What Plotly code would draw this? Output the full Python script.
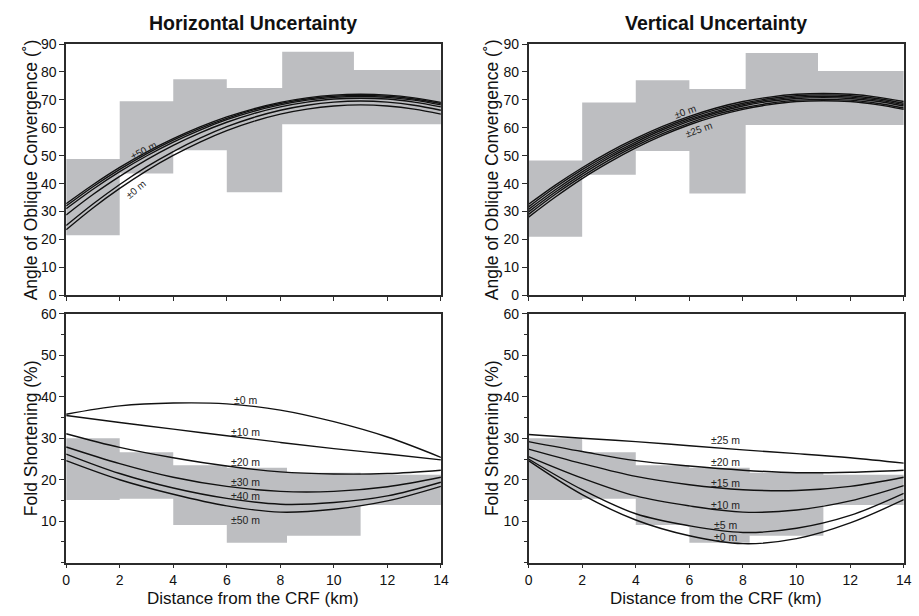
import plotly.graph_objects as go

# ---------------- data ----------------
x_top = [0, 1, 2, 3, 4, 5, 6, 7, 8, 9, 10, 11, 12, 13, 14]

# Horizontal uncertainty - angle of oblique convergence
h_angle_0  = [23.5, 31.3, 38.3, 44.6, 50.1, 54.9, 59.0, 62.3, 64.9, 66.7, 67.8, 68.2, 67.8, 66.7, 64.9]
h_angle_10 = [25.0, 32.7, 39.7, 46.0, 51.5, 56.3, 60.4, 63.7, 66.3, 68.1, 69.2, 69.6, 69.2, 68.1, 66.3]
h_angle_20 = [28.8, 36.1, 42.6, 48.5, 53.7, 58.2, 62.0, 65.1, 67.5, 69.2, 70.3, 70.6, 70.3, 69.2, 67.5]
h_angle_30 = [31.0, 38.0, 44.3, 49.9, 54.9, 59.2, 62.9, 65.9, 68.2, 69.9, 70.9, 71.2, 70.9, 69.9, 68.2]
h_angle_40 = [32.0, 38.9, 45.1, 50.7, 55.6, 59.8, 63.4, 66.4, 68.7, 70.3, 71.3, 71.6, 71.3, 70.3, 68.7]
h_angle_50 = [32.8, 39.6, 45.8, 51.3, 56.1, 60.3, 63.9, 66.8, 69.1, 70.7, 71.7, 72.0, 71.7, 70.7, 69.1]

# Vertical uncertainty - angle of oblique convergence
v_angle_0  = [32.6, 39.5, 45.7, 51.3, 56.2, 60.5, 64.1, 67.1, 69.4, 71.0, 72.0, 72.3, 72.0, 71.0, 69.4]
v_angle_5  = [31.7, 38.7, 45.0, 50.6, 55.6, 59.9, 63.5, 66.5, 68.8, 70.5, 71.5, 71.8, 71.5, 70.5, 68.8]
v_angle_10 = [30.8, 37.8, 44.2, 49.9, 54.9, 59.3, 62.9, 65.9, 68.3, 70.0, 71.0, 71.3, 71.0, 70.0, 68.3]
v_angle_15 = [29.9, 37.0, 43.4, 49.2, 54.2, 58.6, 62.4, 65.4, 67.8, 69.5, 70.5, 70.8, 70.5, 69.5, 67.8]
v_angle_20 = [29.0, 36.2, 42.6, 48.4, 53.5, 57.9, 61.7, 64.8, 67.1, 68.8, 69.9, 70.2, 69.9, 68.8, 67.1]
v_angle_25 = [28.0, 35.2, 41.8, 47.6, 52.8, 57.3, 61.1, 64.2, 66.6, 68.3, 69.4, 69.7, 69.4, 68.3, 66.6]

x_bot = [0, 2, 4, 6, 8, 10, 12, 14]

# Horizontal uncertainty - fold shortening
h_fold_0  = [35.8, 37.8, 38.5, 38.3, 36.8, 34.0, 30.3, 25.4]
h_fold_10 = [35.5, 33.8, 32.2, 30.6, 29.0, 27.5, 26.2, 24.8]
h_fold_20 = [31.1, 27.8, 25.3, 23.3, 21.9, 21.4, 21.5, 22.3]
h_fold_30 = [27.9, 23.9, 20.6, 18.4, 17.2, 17.2, 18.3, 20.6]
h_fold_40 = [26.2, 21.5, 18.0, 15.5, 14.1, 14.5, 16.1, 19.4]
h_fold_50 = [24.6, 20.0, 16.5, 13.7, 12.2, 12.9, 14.9, 18.4]

# Vertical uncertainty - fold shortening
v_fold_25 = [30.9, 30.0, 29.2, 28.2, 27.2, 26.3, 25.3, 24.0]
v_fold_20 = [29.2, 26.8, 24.6, 23.3, 22.3, 21.7, 21.8, 22.3]
v_fold_15 = [27.4, 23.9, 20.8, 18.8, 17.6, 17.4, 18.4, 20.6]
v_fold_10 = [25.6, 20.4, 16.1, 13.7, 12.2, 12.7, 14.9, 18.6]
v_fold_5  = [25.0, 17.6, 11.8, 8.9, 7.3, 8.3, 11.4, 16.7]
v_fold_0  = [24.6, 16.4, 10.3, 6.5, 4.6, 5.8, 9.6, 15.2]

# Shaded ranges: bin edges, low and high per bin
h_angle_edges = [0, 2, 4, 6, 8.07, 10.75, 14]
h_angle_lo = [21.5, 43.6, 52.0, 36.9, 61.3, 61.3]
h_angle_hi = [48.8, 69.5, 77.4, 74.3, 87.2, 80.7]

v_angle_edges = [0, 2, 4, 6, 8.1, 10.8, 14]
v_angle_lo = [21.0, 43.2, 51.7, 36.5, 61.0, 61.0]
v_angle_hi = [48.3, 69.1, 77.0, 73.9, 86.8, 80.3]

fold_edges = [0, 2, 4, 6, 8.25, 11.0, 14]
fold_lo = [15.1, 15.4, 9.1, 4.8, 6.5, 13.9]
fold_hi = [30.0, 26.6, 23.5, 22.9, 21.7, 21.2]

x_ticks = [0, 2, 4, 6, 8, 10, 12, 14]
angle_ticks = [0, 10, 20, 30, 40, 50, 60, 70, 80, 90]
fold_ticks = [10, 20, 30, 40, 50, 60]
fold_minor = [0, 5, 15, 25, 35, 45, 55]

# ---------------- figure ----------------
FONT = "Liberation Sans, Arial, sans-serif"
GRAY = "#bdbec1"
AXC = "#2b2b2b"

fig = go.Figure()


def add_band(xa, ya, edges, lo, hi):
    # step outline: upper edge left->right, lower edge right->left
    px, py = [], []
    for i, h in enumerate(hi):
        px += [edges[i], edges[i + 1]]
        py += [h, h]
    for i in range(len(lo) - 1, -1, -1):
        px += [edges[i + 1], edges[i]]
        py += [lo[i], lo[i]]
    fig.add_trace(go.Scatter(x=px, y=py, xaxis=xa, yaxis=ya, mode="lines",
                             fill="toself", fillcolor=GRAY, line=dict(width=0, color=GRAY),
                             showlegend=False, hoverinfo="skip"))


add_band("x", "y", h_angle_edges, h_angle_lo, h_angle_hi)
add_band("x2", "y2", v_angle_edges, v_angle_lo, v_angle_hi)
add_band("x3", "y3", fold_edges, fold_lo, fold_hi)
add_band("x4", "y4", fold_edges, fold_lo, fold_hi)


def add_line(xa, ya, xs, ys):
    fig.add_trace(go.Scatter(x=xs, y=ys, xaxis=xa, yaxis=ya, mode="lines",
                             line=dict(color="#111111", width=1.4, shape="spline", smoothing=1.0),
                             showlegend=False, hoverinfo="skip"))


for ys in [h_angle_0, h_angle_10, h_angle_20, h_angle_30, h_angle_40, h_angle_50]:
    add_line("x", "y", x_top, ys)
for ys in [v_angle_0, v_angle_5, v_angle_10, v_angle_15, v_angle_20, v_angle_25]:
    add_line("x2", "y2", x_top, ys)
for ys in [h_fold_0, h_fold_10, h_fold_20, h_fold_30, h_fold_40, h_fold_50]:
    add_line("x3", "y3", x_bot, ys)
for ys in [v_fold_25, v_fold_20, v_fold_15, v_fold_10, v_fold_5, v_fold_0]:
    add_line("x4", "y4", x_bot, ys)


def lab(xa, ya, x, y, text, angle=0, size=10.5):
    fig.add_annotation(xref=xa, yref=ya, x=x, y=y, text=text, showarrow=False,
                       textangle=angle, xanchor="center", yanchor="middle",
                       font=dict(family=FONT, size=size, color="#222"))


h_fold_lab_y = [39.3, 31.6, 24.4, 19.4, 16.1, 10.4]
h_fold_lab_t = ["±0 m", "±10 m", "±20 m", "±30 m", "±40 m", "±50 m"]
for y, t in zip(h_fold_lab_y, h_fold_lab_t):
    lab("x3", "y3", 6.7, y, t)
v_fold_lab_y = [29.6, 24.4, 19.1, 13.8, 9.2, 6.2]
v_fold_lab_t = ["±25 m", "±20 m", "±15 m", "±10 m", "±5 m", "±0 m"]
for y, t in zip(v_fold_lab_y, v_fold_lab_t):
    lab("x4", "y4", 7.35, y, t)

lab("x", "y", 2.9, 51.8, "±50 m", -27, 10)
lab("x", "y", 2.6, 37.8, "±0 m", -40, 10)
lab("x2", "y2", 5.85, 65.9, "±0 m", -20, 10)
lab("x2", "y2", 6.35, 59.3, "±25 m", -20, 10)


def paper_text(x, y, text, size, angle=0):
    fig.add_annotation(xref="paper", yref="paper", x=x / 919, y=1 - y / 616,
                       text=text, showarrow=False, textangle=angle,
                       xanchor="center", yanchor="middle",
                       font=dict(family=FONT, size=size, color="#111"))


paper_text(252.5, 15, "<b>Horizontal Uncertainty</b>", 19.5)
paper_text(721.5, 15, "<b>Vertical Uncertainty</b>", 19.5)

for xp in [27, 494]:
    paper_text(xp, 166, "Angle of Oblique Convergence (˚)", 17.5, -90)
    paper_text(xp, 442, "Fold Shortening (%)", 17.5, -90)
for xp in [252.5, 721.5]:
    paper_text(xp, 606, "Distance from the CRF (km)", 17)

xdomL = [63 / 919, 442.7 / 919]
xdomR = [531.5 / 919, 911.7 / 919]
ydomT = [1 - 295 / 616, 1 - 37 / 616]
ydomB = [1 - 569.5 / 616, 1 - 314 / 616]

axis_common = dict(showline=True, linecolor=AXC, linewidth=1.5, mirror=True,
                   ticks="outside", ticklen=5, tickcolor=AXC, tickwidth=1.2,
                   showgrid=False, zeroline=False,
                   tickfont=dict(family=FONT, size=14, color="#111"))


def xaxis(dom, anchor, labels):
    d = dict(axis_common)
    d.update(domain=dom, anchor=anchor, range=[0, 14], tickvals=x_ticks,
             showticklabels=labels, ticklen=4)
    return d


def yaxis_angle(dom, anchor):
    d = dict(axis_common)
    d.update(domain=dom, anchor=anchor, range=[0, 90], tickvals=angle_ticks)
    return d


def yaxis_fold(dom, anchor):
    d = dict(axis_common)
    d.update(domain=dom, anchor=anchor, range=[0, 60], tickvals=fold_ticks,
             minor=dict(tickvals=fold_minor, ticks="outside", ticklen=3,
                        tickcolor=AXC, tickwidth=1.2, showgrid=False))
    return d


fig.update_layout(
    width=919, height=616,
    margin=dict(l=0, r=0, t=0, b=0),
    paper_bgcolor="white", plot_bgcolor="white",
    showlegend=False,
    xaxis=xaxis(xdomL, "y", False),
    yaxis=yaxis_angle(ydomT, "x"),
    xaxis2=xaxis(xdomR, "y2", False),
    yaxis2=yaxis_angle(ydomT, "x2"),
    xaxis3=xaxis(xdomL, "y3", True),
    yaxis3=yaxis_fold(ydomB, "x3"),
    xaxis4=xaxis(xdomR, "y4", True),
    yaxis4=yaxis_fold(ydomB, "x4"),
)

fig.write_html("out.html")
